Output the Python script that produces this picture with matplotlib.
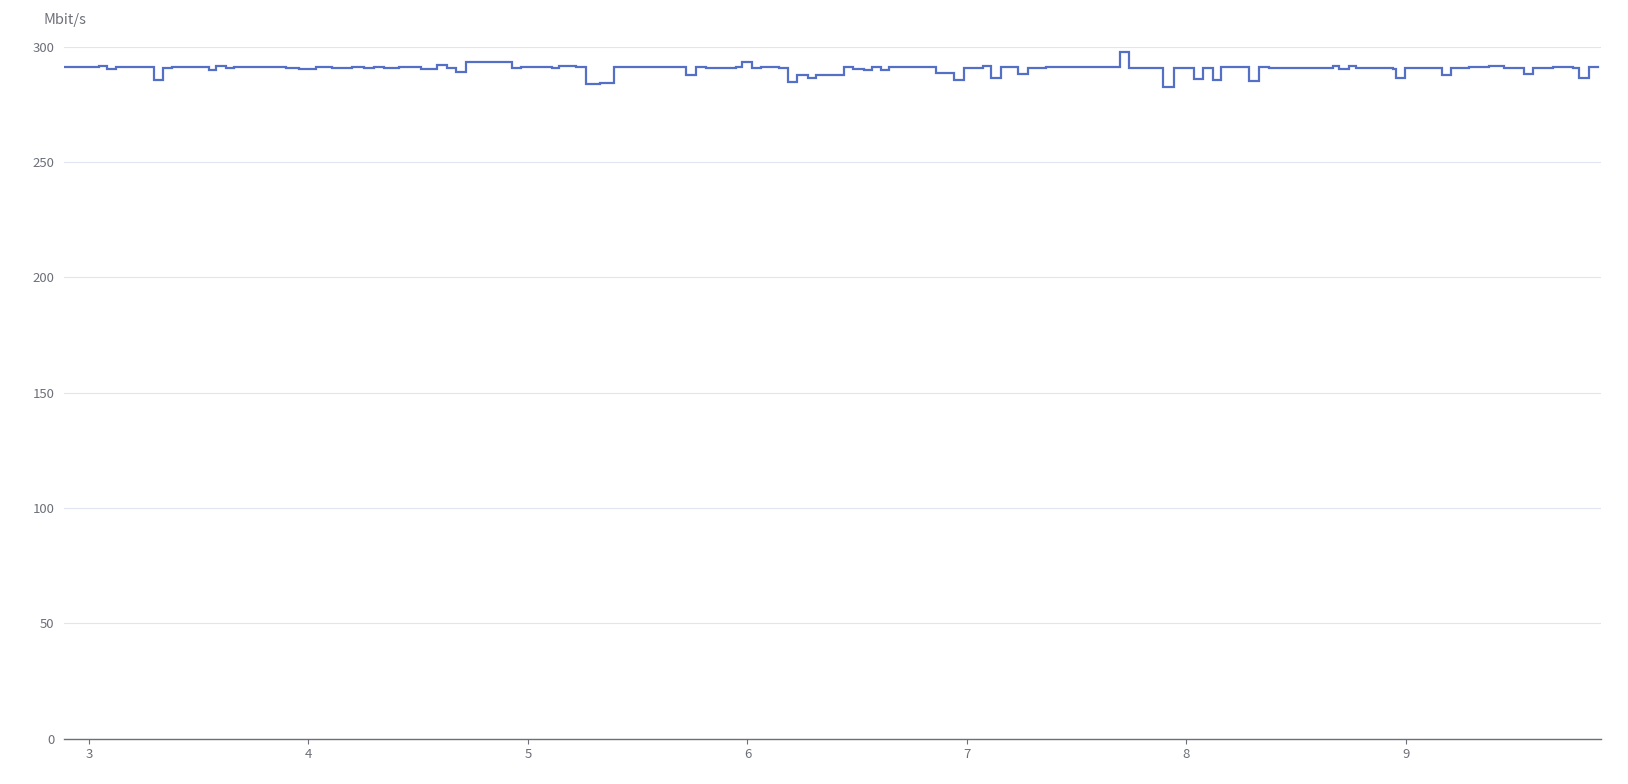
import matplotlib
matplotlib.use("Agg")
import matplotlib.pyplot as plt
import numpy as np

# step start times and throughput values (Mbit/s)
t_start = [2.886, 3.046, 3.083, 3.121, 3.296, 3.339, 3.380, 3.547, 3.577, 3.623,
           3.661, 3.760, 3.896, 3.957, 4.033, 4.109, 4.200, 4.253, 4.299, 4.344,
           4.413, 4.511, 4.587, 4.633, 4.671, 4.716, 4.926, 4.967, 5.111, 5.142,
           5.218, 5.266, 5.330, 5.393, 5.722, 5.765, 5.810, 5.947, 5.974, 6.020,
           6.061, 6.145, 6.183, 6.228, 6.274, 6.312, 6.441, 6.479, 6.532, 6.567,
           6.608, 6.646, 6.859, 6.942, 6.988, 7.071, 7.109, 7.155, 7.231, 7.276,
           7.360, 7.697, 7.740, 7.892, 7.945, 8.036, 8.074, 8.120, 8.158, 8.287,
           8.329, 8.378, 8.667, 8.697, 8.742, 8.773, 8.940, 8.955, 8.998, 9.165,
           9.206, 9.289, 9.380, 9.449, 9.540, 9.578, 9.669, 9.760, 9.790, 9.833]
mbps = [291.2, 291.7, 290.5, 291.2, 285.4, 290.6, 291.3, 290.1, 291.5, 290.6,
        291.0, 291.4, 290.9, 290.4, 291.0, 290.6, 291.4, 290.6, 291.4, 290.8,
        291.3, 290.4, 292.0, 290.6, 289.1, 293.4, 290.6, 291.0, 290.6, 291.7,
        291.2, 283.9, 284.4, 291.2, 287.7, 291.3, 290.8, 291.2, 293.5, 290.6,
        291.2, 290.8, 284.8, 287.7, 286.3, 287.7, 291.2, 290.3, 289.8, 291.4,
        290.1, 291.2, 288.7, 285.4, 290.8, 291.6, 286.3, 291.4, 288.3, 290.9,
        291.1, 297.8, 290.9, 282.6, 290.9, 285.8, 290.9, 285.5, 291.4, 285.1,
        291.4, 290.9, 291.5, 290.5, 291.5, 290.7, 290.4, 286.3, 290.9, 287.7,
        290.9, 291.2, 291.7, 290.9, 288.3, 290.9, 291.3, 290.6, 286.3, 291.2]
t_end = 9.874

x_ticks = [3, 4, 5, 6, 7, 8, 9]
y_ticks = [0, 50, 100, 150, 200, 250, 300]

plt.rcParams['font.family'] = ['Noto Sans CJK SC', 'DejaVu Sans']
axis_grey = "#6E7079"

fig = plt.figure(figsize=(16.28, 7.84), dpi=100)
ax = fig.add_axes([64 / 1628, 1 - 738.5 / 784, 1537 / 1628, 691.8 / 784])

xs = np.append(t_start, t_end)
ys = np.append(mbps, mbps[-1])
ax.step(xs, ys, where="post", color="#5470C6", linewidth=1.6, solid_joinstyle="miter")

ax.set_xlim(2.886, 9.889)
ax.set_ylim(0, 300)
ax.set_xticks(x_ticks)
ax.set_yticks(y_ticks)
ax.set_xticklabels([str(v) for v in x_ticks])
ax.set_yticklabels([str(v) for v in y_ticks])

for side in ["top", "right", "left"]:
    ax.spines[side].set_visible(False)
ax.spines["bottom"].set_color(axis_grey)
ax.spines["bottom"].set_linewidth(1.0)

ax.grid(axis="y", color="#E0E6F1", linewidth=0.8)
ax.set_axisbelow(True)

ax.tick_params(axis="x", direction="out", length=3.6, width=0.8, color=axis_grey,
               labelcolor=axis_grey, labelsize=9.5, pad=3)
ax.tick_params(axis="y", length=0, labelcolor=axis_grey, labelsize=9.5, pad=7)

fig.text(65 / 1628, 1 - 20 / 784, "Mbit/s", ha="center", va="center",
         color=axis_grey, fontsize=10.5)

fig.savefig("out.png", dpi=100)
